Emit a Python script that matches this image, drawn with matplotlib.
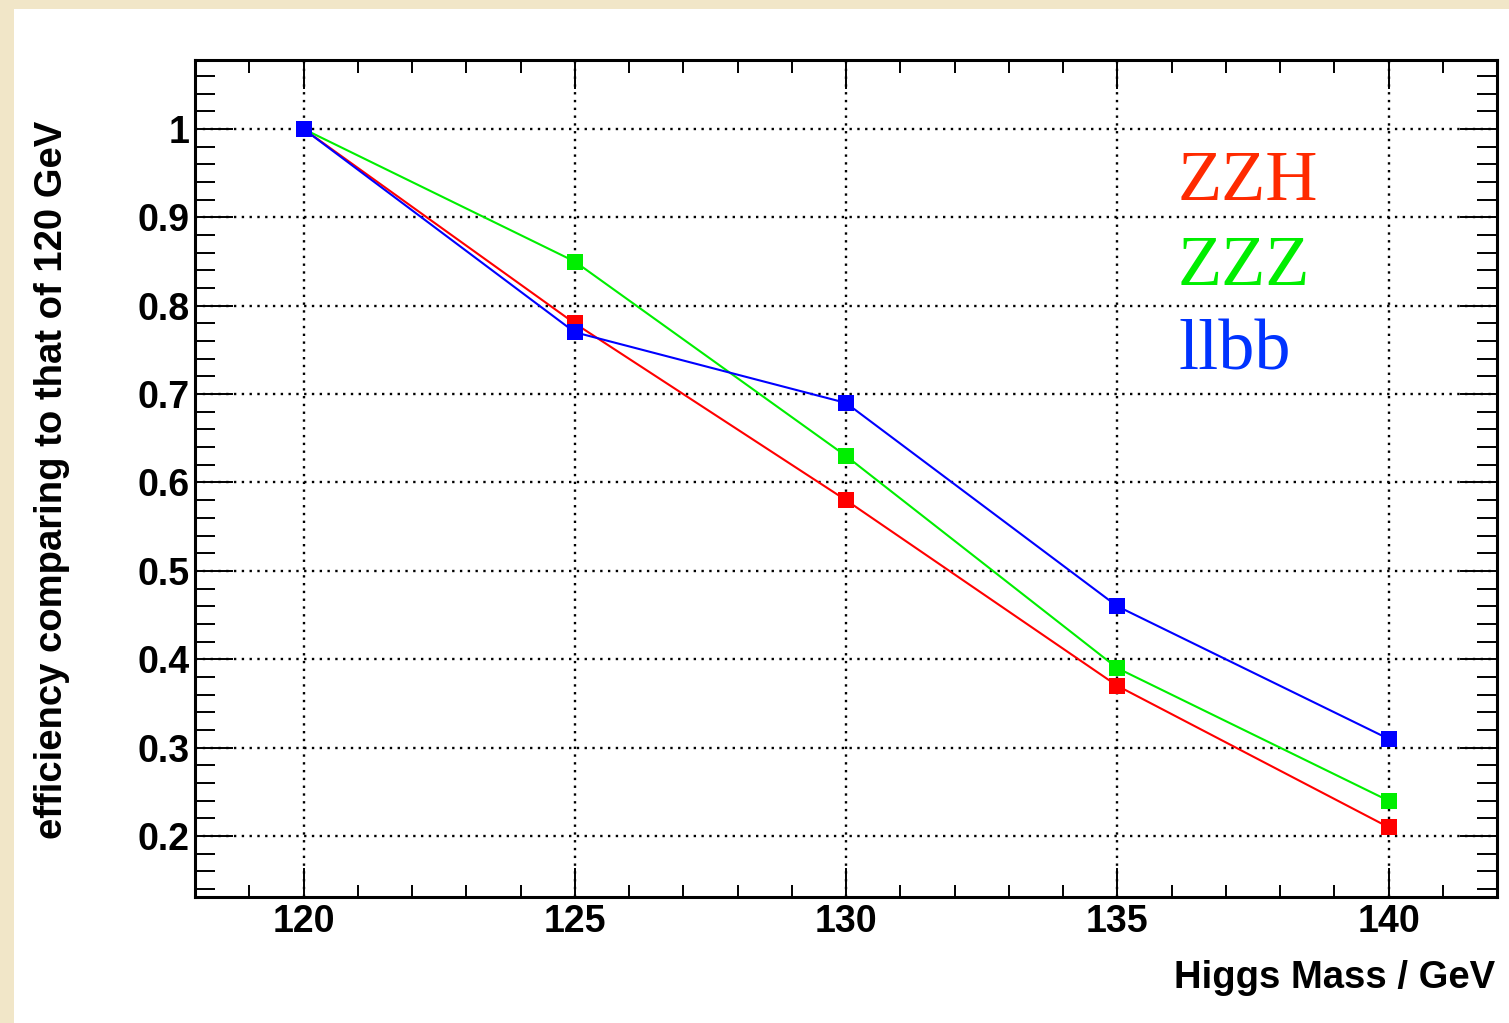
import matplotlib
matplotlib.use("Agg")
import matplotlib.pyplot as plt
from matplotlib.patches import Rectangle
from matplotlib.ticker import MultipleLocator

masses = [120, 125, 130, 135, 140]
zzh = [1.0, 0.78, 0.58, 0.37, 0.21]
zzz = [1.0, 0.85, 0.63, 0.39, 0.24]
llbb = [1.0, 0.77, 0.69, 0.46, 0.31]
series_names = ["ZZH", "ZZZ", "llbb"]
line_colors = ["#ff0000", "#00ee00", "#0000ff"]
text_colors = ["#ff2a00", "#00ee00", "#0033ff"]
xticks = [120, 125, 130, 135, 140]
yticks = [0.2, 0.3, 0.4, 0.5, 0.6, 0.7, 0.8, 0.9, 1.0]
ytick_labels = ["0.2", "0.3", "0.4", "0.5", "0.6", "0.7", "0.8", "0.9", "1"]

W, H = 1509, 1023
fig = plt.figure(figsize=(W / 100, H / 100), dpi=100)
fig.patch.set_facecolor("#f1e6c8")
bg = Rectangle((14 / W, 0), 1, (H - 9) / H, transform=fig.transFigure,
               facecolor="white", edgecolor="none", zorder=-10)
fig.add_artist(bg)

ax = fig.add_axes([195 / W, (H - 897) / H, (1497 - 195) / W, (897 - 60) / H])
ax.set_facecolor("white")
ax.set_zorder(1)

for vals, c in zip([zzh, zzz, llbb], line_colors):
    ax.plot(masses, vals, color=c, lw=1.5, marker="s", markersize=11.5,
            markeredgewidth=0, zorder=3)

ax.set_xlim(118, 142)
ax.set_ylim(0.131, 1.078)
ax.set_xticks(xticks)
ax.set_xticklabels([str(v) for v in xticks])
ax.set_yticks(yticks)
ax.set_yticklabels(ytick_labels)
ax.xaxis.set_minor_locator(MultipleLocator(1))
ax.yaxis.set_minor_locator(MultipleLocator(0.02))

ax.grid(True, which="major", color="black", lw=1.7, linestyle=(0, (1, 2.3)), zorder=1)

for s in ax.spines.values():
    s.set_linewidth(2.2)

ax.tick_params(axis="x", which="major", direction="in", length=21, width=1.4,
               top=True, bottom=True, pad=5)
ax.tick_params(axis="x", which="minor", direction="in", length=9, width=1.4,
               top=True, bottom=True)
ax.tick_params(axis="y", which="major", direction="in", length=27, width=1.4,
               left=True, right=True, pad=4)
ax.tick_params(axis="y", which="minor", direction="in", length=14.5, width=1.4,
               left=True, right=True)

for lab in ax.get_xticklabels() + ax.get_yticklabels():
    lab.set_fontfamily("Liberation Sans")
    lab.set_fontweight("bold")
    lab.set_fontsize(27)

fig.text(1495 / W, 1 - 978 / H, "Higgs Mass / GeV", ha="right", va="center",
         fontfamily="Liberation Sans", fontweight="bold", fontsize=27.5)
fig.text(52 / W, 1 - 480 / H, "efficiency comparing to that of 120 GeV", rotation=90,
         ha="center", va="center", fontfamily="Liberation Sans", fontweight="bold",
         fontsize=27.5)

baselines = [200, 285, 370]
for name, c, by in zip(series_names, text_colors, baselines):
    fig.text(1178 / W, 1 - by / H, name, color=c, ha="left", va="baseline",
             fontfamily="Liberation Serif", fontsize=52)

fig.savefig("out.png", dpi=100, facecolor=fig.get_facecolor())
